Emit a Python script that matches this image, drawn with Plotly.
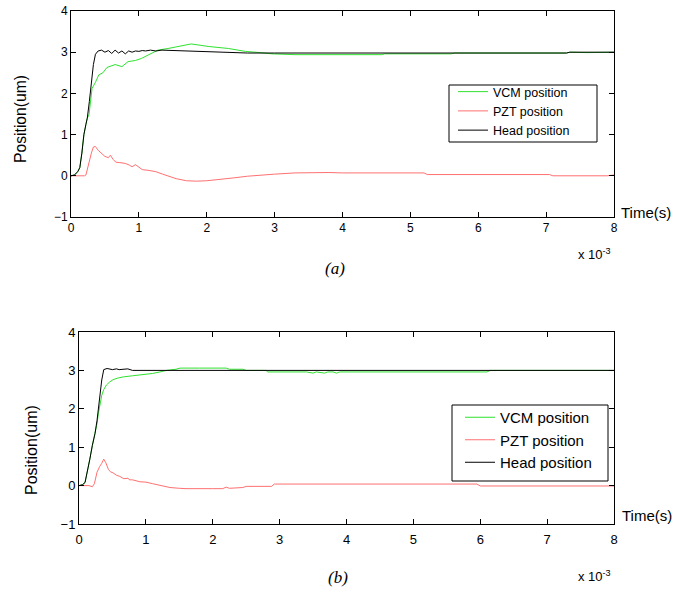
import plotly.graph_objects as go

# ---------------- data (time in units of 1e-3 s, position in um) ----------------
# Panel (a)
t_a_vcm = [0, 0.05, 0.1, 0.13, 0.16, 0.19, 0.22, 0.24, 0.265, 0.29, 0.31, 0.36, 0.41, 0.47, 0.53, 0.65,
           0.75, 0.84, 0.95, 1.04, 1.14, 1.28, 1.43, 1.55, 1.68, 1.77, 1.9, 2.02, 2.32, 2.44, 2.57,
           2.79, 2.96, 3.3, 4.0, 4.58, 4.62, 5.6, 5.65, 7.3, 7.35, 7.6, 8.0]
vcm_a = [0, 0.02, 0.1, 0.2, 0.55, 1.0, 1.25, 1.4, 1.48, 1.92, 2.12, 2.27, 2.45, 2.5, 2.63, 2.7,
         2.65, 2.77, 2.8, 2.85, 2.93, 3.05, 3.09, 3.13, 3.17, 3.2, 3.17, 3.14, 3.09, 3.06, 3.02,
         2.99, 2.96, 2.94, 2.94, 2.94, 2.96, 2.96, 2.98, 2.98, 3.0, 2.99, 3.0]

t_a_pzt = [0, 0.1, 0.2, 0.22, 0.26, 0.3, 0.33, 0.36, 0.4, 0.45, 0.5, 0.55, 0.58, 0.62, 0.66, 0.72,
           0.8, 0.86, 0.9, 0.95, 1.0, 1.05, 1.15, 1.25, 1.35, 1.45, 1.55, 1.7, 1.85, 2.0, 2.2,
           2.4, 2.6, 2.8, 3.0, 3.3, 3.6, 3.7, 3.8, 4.0, 4.5, 5.2, 5.25, 7.05, 7.1, 7.9, 8.0]
pzt_a = [0, 0, 0, 0.02, 0.3, 0.55, 0.7, 0.71, 0.62, 0.55, 0.47, 0.44, 0.5, 0.4, 0.33, 0.32,
         0.3, 0.26, 0.22, 0.27, 0.2, 0.15, 0.13, 0.1, 0.04, -0.02, -0.07, -0.12, -0.13, -0.12, -0.09,
         -0.05, -0.01, 0.02, 0.04, 0.07, 0.08, 0.09, 0.08, 0.07, 0.07, 0.07, 0.03, 0.03, 0.0, 0.0, 0.02]

t_a_head = [0, 0.05, 0.1, 0.13, 0.16, 0.19, 0.22, 0.24, 0.27, 0.29, 0.31, 0.33, 0.36, 0.4, 0.45,
            0.5, 0.55, 0.6, 0.65, 0.7, 0.75, 0.8, 0.85, 0.9, 0.95, 1.0, 1.05, 1.1, 1.17, 1.25,
            1.34, 1.5, 1.7, 2.0, 2.4, 2.6, 3.0, 4.0, 5.0, 6.0, 7.0, 7.3, 7.35, 8.0]
head_a = [0, 0.02, 0.1, 0.2, 0.55, 1.0, 1.25, 1.4, 1.8, 2.1, 2.45, 2.7, 2.95, 3.03, 3.05,
          3.0, 3.04, 2.97, 3.05, 2.98, 3.03, 2.96, 3.03, 3.0, 3.03, 3.02, 3.04, 3.03, 3.05, 3.03,
          3.05, 3.04, 3.03, 3.02, 3.0, 2.98, 2.98, 2.98, 2.98, 2.98, 2.98, 2.98, 3.0, 3.0]

# Panel (b)
t_b_vcm = [0, 0.05, 0.09, 0.12, 0.16, 0.2, 0.24, 0.27, 0.29, 0.32, 0.34, 0.37, 0.41, 0.46, 0.51,
           0.58, 0.66, 0.8, 0.96, 1.1, 1.21, 1.31, 1.45, 1.51, 1.8, 2.2, 2.25, 2.45, 2.5, 2.8,
           2.82, 3.4, 3.5, 3.55, 3.67, 3.72, 3.8, 3.85, 3.9, 4.5, 6.1, 6.15, 8.0]
vcm_b = [0, 0.02, 0.08, 0.3, 0.67, 1.05, 1.36, 1.62, 1.88, 2.15, 2.35, 2.5, 2.62, 2.7, 2.76,
         2.8, 2.83, 2.86, 2.89, 2.92, 2.96, 3.0, 3.03, 3.06, 3.06, 3.06, 3.03, 3.03, 3.0, 3.0,
         2.96, 2.96, 2.93, 2.96, 2.93, 2.96, 2.96, 2.93, 2.96, 2.96, 2.96, 3.0, 3.0]

t_b_pzt = [0, 0.15, 0.2, 0.23, 0.27, 0.29, 0.31, 0.34, 0.37, 0.4, 0.44, 0.47, 0.51, 0.56, 0.61,
           0.67, 0.73, 0.76, 0.8, 0.91, 1.0, 1.1, 1.16, 1.25, 1.36, 1.5, 1.6, 2.0, 2.15, 2.2,
           2.25, 2.45, 2.5, 2.88, 2.92, 5.95, 6.0, 8.0]
pzt_b = [0, 0, -0.03, 0.05, 0.35, 0.45, 0.5, 0.58, 0.69, 0.6, 0.42, 0.36, 0.33, 0.27, 0.24,
         0.18, 0.19, 0.15, 0.15, 0.1, 0.09, 0.05, 0.03, 0.0, -0.05, -0.07, -0.08, -0.08, -0.08, -0.04,
         -0.07, -0.05, -0.02, -0.02, 0.04, 0.04, -0.01, -0.01]

t_b_head = [0, 0.05, 0.09, 0.12, 0.16, 0.2, 0.24, 0.27, 0.3, 0.34, 0.37, 0.42, 0.5, 0.56, 0.6,
            0.66, 0.73, 0.8, 8.0]
head_b = [0, 0.02, 0.08, 0.3, 0.67, 1.05, 1.36, 1.7, 2.15, 2.75, 3.02, 3.05, 3.02, 3.04, 3.02,
          3.03, 3.04, 3.0, 3.0]

series_names = ["VCM position", "PZT position", "Head position"]
x_ticks = [0, 1, 2, 3, 4, 5, 6, 7, 8]
y_ticks = [-1, 0, 1, 2, 3, 4]

# ---------------- styling ----------------
W, H = 674, 597
GREEN = "#2fe22f"
RED = "#ff7070"
BLACK = "#000000"
FONT = "Liberation Sans, Arial, sans-serif"


def px_x(p):
    return p / W


def px_y(p):
    return 1 - p / H


fig = go.Figure()

panels = [
    dict(xa="x", ya="y", leg="legend",
         data=[(t_a_vcm, vcm_a), (t_a_pzt, pzt_a), (t_a_head, head_a)]),
    dict(xa="x2", ya="y2", leg="legend2",
         data=[(t_b_vcm, vcm_b), (t_b_pzt, pzt_b), (t_b_head, head_b)]),
]
colors = [GREEN, RED, BLACK]
for p in panels:
    for (tx, vy), name, c in zip(p["data"], series_names, colors):
        fig.add_trace(go.Scatter(x=tx, y=vy, mode="lines", name=name,
                                 line=dict(color=c, width=1),
                                 xaxis=p["xa"], yaxis=p["ya"], legend=p["leg"]))

axis_common = dict(showline=True, linecolor="black", linewidth=1, mirror="ticks",
                   ticks="inside", ticklen=5, tickcolor="black", showgrid=False,
                   zeroline=False, automargin=False)

fig.update_layout(
    width=W, height=H,
    margin=dict(l=0, r=0, t=0, b=0, pad=0, autoexpand=False),
    paper_bgcolor="white", plot_bgcolor="white",
    font=dict(family=FONT, color="black"),
    xaxis=dict(domain=[px_x(71), px_x(614)], range=[0, 8], tickvals=x_ticks,
               tickfont=dict(size=12), anchor="y", **axis_common),
    yaxis=dict(domain=[px_y(217), px_y(11)], range=[-1, 4], tickvals=y_ticks,
               tickfont=dict(size=12), anchor="x", **axis_common),
    xaxis2=dict(domain=[px_x(79), px_x(614)], range=[0, 8], tickvals=x_ticks,
                tickfont=dict(size=13), anchor="y2", ticklabelstandoff=3, **axis_common),
    yaxis2=dict(domain=[px_y(524), px_y(332)], range=[-1, 4], tickvals=y_ticks,
                tickfont=dict(size=13), anchor="x2", **axis_common),
    legend=dict(x=px_x(453), y=px_y(77), xanchor="left", yanchor="top",
                borderwidth=0, bgcolor="rgba(0,0,0,0)",
                font=dict(size=12.5), tracegroupgap=0),
    legend2=dict(x=px_x(460), y=px_y(401), xanchor="left", yanchor="top",
                 borderwidth=0, bgcolor="rgba(0,0,0,0)",
                 font=dict(size=15), tracegroupgap=0),
    showlegend=True,
)

# legend frames
for x0, y0, x1, y1 in [(449, 85, 597, 142), (452, 405, 608, 481)]:
    fig.add_shape(type="rect", xref="paper", yref="paper",
                  x0=px_x(x0), x1=px_x(x1), y0=px_y(y1), y1=px_y(y0),
                  line=dict(color="black", width=1), fillcolor="white", layer="above")

annots = [
    dict(text="Position(um)", x=px_x(21), y=px_y(119), textangle=-90, size=15.7),
    dict(text="Position(um)", x=px_x(31), y=px_y(450), textangle=-90, size=16),
    dict(text="Time(s)", x=px_x(645.5), y=px_y(212.5), size=15),
    dict(text="Time(s)", x=px_x(647), y=px_y(515), size=15),
    dict(text="x 10<sup>-3</sup>", x=px_x(594), y=px_y(254), size=13),
    dict(text="x 10<sup>-3</sup>", x=px_x(594), y=px_y(576), size=13),
]
for a in annots:
    fig.add_annotation(text=a["text"], x=a["x"], y=a["y"], xref="paper", yref="paper",
                       showarrow=False, textangle=a.get("textangle", 0),
                       xanchor="center", yanchor="middle",
                       font=dict(size=a["size"], family=FONT, color="black"))

for txt, xx, yy in [("<i>(a)</i>", 335, 268), ("<i>(b)</i>", 338, 577)]:
    fig.add_annotation(text=txt, x=px_x(xx), y=px_y(yy), xref="paper", yref="paper",
                       showarrow=False, xanchor="center", yanchor="middle",
                       font=dict(size=17, family="Liberation Serif, Times New Roman, serif",
                                 color="black"))

# pin the figure to the page's top-left corner so it fills the window exactly
pin = ("document.body.style.margin='0';"
       "var d=document.getElementById('{plot_id}');"
       "d.style.position='absolute';d.style.left='0px';d.style.top='0px';")

fig.write_html("out.html", post_script=pin, config={"displayModeBar": False})
